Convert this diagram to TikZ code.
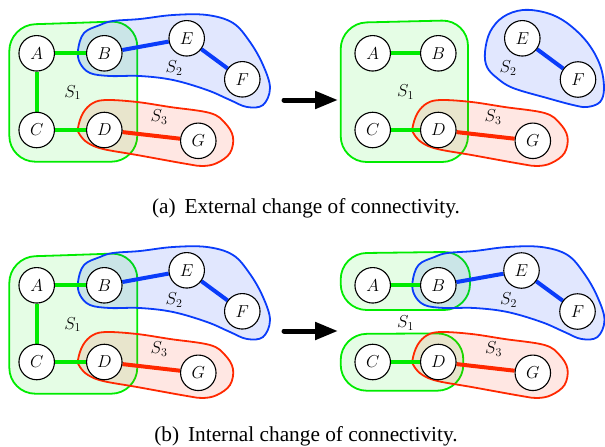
\documentclass[tikz,border=0pt]{standalone}
\usepackage{fontspec}
\newfontfamily\capfont{Liberation Serif}
\usetikzlibrary{arrows.meta}
\pgfdeclarelayer{hulls}
\pgfdeclarelayer{edges}
\pgfsetlayers{hulls,edges,main}
\definecolor{hgreen}{RGB}{0,235,0}
\definecolor{hblue}{RGB}{10,60,250}
\definecolor{hred}{RGB}{255,40,0}
\tikzset{
  vtx/.style={circle,draw=black,line width=1.1pt,fill=white,minimum size=35.5pt,inner sep=0pt,font=\fontsize{17}{17}\selectfont},
  lbl/.style={inner sep=0pt,font=\fontsize{17}{17}\selectfont},
  hullG/.style={draw=hgreen,line width=1.8pt,fill=hgreen,fill opacity=0.1,rounded corners=26pt},
  hullB/.style={draw=hblue,line width=1.8pt,fill=hblue,fill opacity=0.12},
  hullR/.style={draw=hred,line width=1.8pt,fill=hred,fill opacity=0.11},
  eG/.style={draw=hgreen,line width=4pt},
  eB/.style={draw=hblue,line width=4pt},
  eR/.style={draw=hred,line width=4pt},
  bigarrow/.style={line width=5pt,line cap=round,-{Triangle[length=23pt,width=17pt]}},
  captxt/.style={inner sep=0pt,font=\capfont\fontsize{21.3}{22}\selectfont}
}
\begin{document}
\begin{tikzpicture}[x=1pt,y=-1pt]
\useasboundingbox (0,0) rectangle (605,447);
% ---------- left panels (a) and (b): identical ----------
\foreach \s/\dy in {a/0,b/232}{
\begin{scope}[shift={(0,\dy)}]
  \node[vtx] (A\s) at (36.7,53.3) {$A$};
  \node[vtx] (B\s) at (104.3,53.3) {$B$};
  \node[vtx] (C\s) at (36.7,130) {$C$};
  \node[vtx] (D\s) at (104.3,130) {$D$};
  \node[vtx] (E\s) at (186.7,38.3) {$E$};
  \node[vtx] (F\s) at (242.3,79.3) {$F$};
  \node[vtx] (G\s) at (198.3,140.8) {$G$};
  \node[lbl] (SA\s) at (72.7,92.7) {$S_1$};
  \node[lbl] (SB\s) at (174,68) {$S_2$};
  \node[lbl] (SC\s) at (159,117) {$S_3$};
  \begin{pgfonlayer}{hulls}
    \draw[hullG] (73,23) -- (137.3,20.7) -- (137.3,161.7) -- (9.3,161.7) -- (9.3,25) -- cycle;
    \draw[hullB] plot[smooth cycle,tension=0.6] coordinates {(78,50) (84,33) (100,25) (113,21) (140,19) (173,15) (207,15) (233,23) (250,42) (263,65) (270,88) (263,105) (247,107) (230,100) (207,90) (173,80) (140,76) (110,76) (90,73) (80,63)};
    \draw[hullR] plot[smooth cycle,tension=0.6] coordinates {(78,128) (83,113) (93,103) (107,100) (137,102) (170,107) (210,113) (225,123) (233,137) (230,153) (217,163) (203,166) (187,164) (137,155) (103,149) (88,143) (80,135)};
  \end{pgfonlayer}
  \begin{pgfonlayer}{edges}
    \draw[eG] (A\s) -- (B\s);
    \draw[eG] (A\s) -- (C\s);
    \draw[eG] (C\s) -- (D\s);
    \draw[eB] (B\s) -- (E\s);
    \draw[eB] (E\s) -- (F\s);
    \draw[eR] (D\s) -- (G\s);
  \end{pgfonlayer}
\end{scope}
}
% ---------- top right ----------
\node[vtx] (Ac) at (372.7,53.3) {$A$};
\node[vtx] (Bc) at (438.3,53.3) {$B$};
\node[vtx] (Cc) at (372.7,130) {$C$};
\node[vtx] (Dc) at (438.3,130) {$D$};
\node[vtx] (Ec) at (522.3,38.3) {$E$};
\node[vtx] (Fc) at (578,79.5) {$F$};
\node[vtx] (Gc) at (532.8,140.8) {$G$};
\node[lbl] (SAc) at (405.5,92) {$S_1$};
\node[lbl] (SBc) at (508,68) {$S_2$};
\node[lbl] (SCc) at (493,117) {$S_3$};
\begin{pgfonlayer}{hulls}
  \draw[hullG] (404,21.5) -- (468,20) -- (468,162) -- (340.7,162) -- (340.7,23) -- cycle;
  \draw[hullB] plot[smooth cycle,tension=0.6] coordinates {(485,52) (490,32) (503,17) (523,10) (547,13) (567,23) (587,42) (600,65) (604,88) (600,102) (587,107) (573,105) (547,98) (513,88) (497,78) (487,67)};
  \begin{scope}[shift={(334.5,0)}]
    \draw[hullR] plot[smooth cycle,tension=0.6] coordinates {(78,128) (83,113) (93,103) (107,100) (137,102) (170,107) (210,113) (225,123) (233,137) (230,153) (217,163) (203,166) (187,164) (137,155) (103,149) (88,143) (80,135)};
  \end{scope}
\end{pgfonlayer}
\begin{pgfonlayer}{edges}
  \draw[eG] (Ac) -- (Bc);
  \draw[eG] (Cc) -- (Dc);
  \draw[eB] (Ec) -- (Fc);
  \draw[eR] (Dc) -- (Gc);
\end{pgfonlayer}
% ---------- bottom right ----------
\node[vtx] (Ad) at (372.7,285.3) {$A$};
\node[vtx] (Bd) at (438.3,285.3) {$B$};
\node[vtx] (Cd) at (372.7,362) {$C$};
\node[vtx] (Dd) at (438.3,362) {$D$};
\node[vtx] (Ed) at (521.5,270.5) {$E$};
\node[vtx] (Fd) at (577.5,311.5) {$F$};
\node[vtx] (Gd) at (532.8,372.8) {$G$};
\node[lbl] (SAd) at (405.5,323) {$S_1$};
\node[lbl] (SBd) at (508.5,300) {$S_2$};
\node[lbl] (SCd) at (493.5,349) {$S_3$};
\begin{pgfonlayer}{hulls}
  \draw[hullG] (405,252.5) -- (470,251.7) -- (470,310) -- (340.7,310) -- (340.7,253.3) -- cycle;
  \draw[hullG] (402,333.6) -- (463.3,333.3) -- (463.3,390.7) -- (340.7,390.7) -- (340.7,334) -- cycle;
  \begin{scope}[shift={(334.5,232)}]
    \draw[hullB] plot[smooth cycle,tension=0.6] coordinates {(78,50) (84,33) (100,25) (113,21) (140,19) (173,15) (207,15) (233,23) (250,42) (263,65) (270,88) (263,105) (247,107) (230,100) (207,90) (173,80) (140,76) (110,76) (90,73) (80,63)};
    \draw[hullR] plot[smooth cycle,tension=0.6] coordinates {(78,128) (83,113) (93,103) (107,100) (137,102) (170,107) (210,113) (225,123) (233,137) (230,153) (217,163) (203,166) (187,164) (137,155) (103,149) (88,143) (80,135)};
  \end{scope}
\end{pgfonlayer}
\begin{pgfonlayer}{edges}
  \draw[eG] (Ad) -- (Bd);
  \draw[eG] (Cd) -- (Dd);
  \draw[eB] (Bd) -- (Ed);
  \draw[eB] (Ed) -- (Fd);
  \draw[eR] (Dd) -- (Gd);
\end{pgfonlayer}
% ---------- arrows ----------
\coordinate (ta1) at (284,100);
\coordinate (ta2) at (338,100);
\coordinate (tb1) at (284,331);
\coordinate (tb2) at (338,331);
\draw[bigarrow] (ta1) -- (ta2);
\draw[bigarrow] (tb1) -- (tb2);
% ---------- captions ----------
\node[captxt,anchor=base] (capa) at (306,213) {(a)\ \,External change of connectivity.};
\node[captxt,anchor=base] (capb) at (306,441) {(b)\ \,Internal change of connectivity.};
\end{tikzpicture}
\end{document}
